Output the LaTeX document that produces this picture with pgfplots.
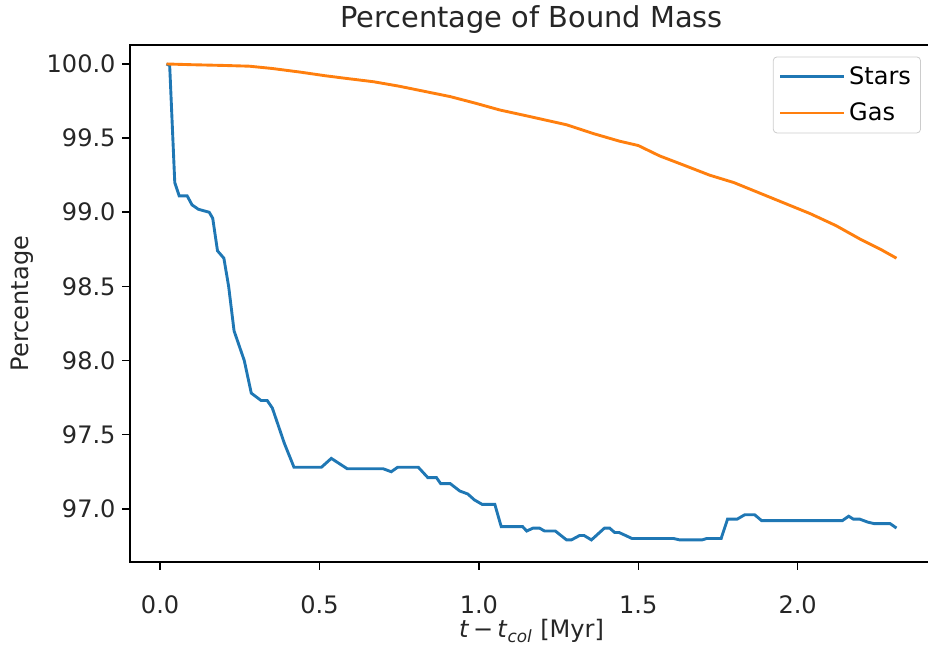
\documentclass[border=0pt]{standalone}
\usepackage{fontspec}
\setmainfont{DejaVu Sans}
\usepackage{pgfplots}
\pgfplotsset{compat=1.18}
\definecolor{mplblue}{HTML}{1F77B4}
\definecolor{mplorange}{HTML}{FF7F0E}
\begin{document}
\begin{tikzpicture}
\path[use as bounding box] (-67.6pt,-43.2pt) rectangle (415pt,292.2pt);
\begin{axis}[
  at={(0pt,0pt)}, anchor=south west,
  width=417.6pt, height=268.8pt, scale only axis,
  xmin=-0.0945, xmax=2.4245,
  ymin=96.642, ymax=100.128,
  xtick={0,0.5,1,1.5,2},
  ytick={97,97.5,98,98.5,99,99.5,100},
  /pgf/number format/assume math mode=true,
  tick label style={font=\fontsize{12.5}{15}\selectfont, text=black!85,
    /pgf/number format/fixed, /pgf/number format/fixed zerofill, /pgf/number format/precision=1},
  xticklabel style={yshift=-10pt},
  tick align=outside, major tick length=4pt,
  tick style={black, line width=0.8pt},
  xtick pos=bottom, ytick pos=left,
  axis line style={black, line width=0.8pt},
  title={Percentage of Bound Mass},
  every axis title/.style={font=\fontsize{15}{18}\selectfont, at={(0.5,1)}, anchor=base, yshift=9pt, text=black!85},
  xlabel={\textit{t}\,−\,\textit{t}\textsubscript{\textit{col}} [Myr]},
  ylabel={Percentage},
  xlabel style={at={(axis description cs:0.5,0)}, anchor=center, yshift=-36pt},
  ylabel style={at={(axis description cs:0,0.5)}, anchor=center, yshift=56pt},
  label style={font=\fontsize{12.5}{15}\selectfont, text=black!85},
  legend style={at={(1,1)}, anchor=north east, xshift=-6.25pt, yshift=-6pt,
    draw=black!20, rounded corners=2pt, fill=white, fill opacity=0.8, text opacity=1,
    font=\fontsize{12.5}{15}\selectfont, inner xsep=3pt, inner ysep=3pt, row sep=4pt},
  legend cell align=left,
  legend image code/.code={\path (0pt,0pt) -- (33pt,0pt);\draw[#1, line width=1.5pt] (0pt,0pt) -- (27.6pt,0pt);},
]
\addplot[mplblue, line width=1.5pt] coordinates {
(0.020,100.00) (0.030,99.99) (0.046,99.20) (0.060,99.11) (0.085,99.11)
(0.100,99.05) (0.120,99.02) (0.154,99.00) (0.165,98.96) (0.180,98.74)
(0.200,98.69) (0.215,98.50) (0.232,98.20) (0.264,98.00) (0.286,97.78)
(0.317,97.73) (0.336,97.73) (0.352,97.68) (0.390,97.44) (0.420,97.28)
(0.506,97.28) (0.537,97.34) (0.587,97.27) (0.700,97.27) (0.725,97.25)
(0.745,97.28) (0.810,97.28) (0.840,97.21) (0.867,97.21) (0.880,97.17)
(0.910,97.17) (0.940,97.12) (0.965,97.10) (0.986,97.06) (1.010,97.03)
(1.050,97.03) (1.070,96.88) (1.137,96.88) (1.150,96.85) (1.170,96.87)
(1.190,96.87) (1.206,96.85) (1.240,96.85) (1.275,96.79) (1.290,96.79)
(1.316,96.82) (1.330,96.82) (1.353,96.79) (1.394,96.87) (1.410,96.87)
(1.426,96.84) (1.440,96.84) (1.480,96.80) (1.610,96.80) (1.630,96.79)
(1.700,96.79) (1.715,96.80) (1.760,96.80) (1.780,96.93) (1.810,96.93)
(1.834,96.96) (1.865,96.96) (1.887,96.92) (2.140,96.92) (2.160,96.95)
(2.175,96.93) (2.195,96.93) (2.220,96.91) (2.240,96.90) (2.290,96.90)
(2.310,96.87)
};
\addlegendentry{Stars}
\addplot[mplorange, line width=1.5pt] coordinates {
(0.020,100.00) (0.10,99.995) (0.20,99.99) (0.28,99.985) (0.35,99.97)
(0.44,99.945) (0.52,99.92) (0.594,99.90) (0.67,99.88) (0.75,99.85)
(0.83,99.815) (0.91,99.78) (0.99,99.735) (1.065,99.69) (1.15,99.65)
(1.275,99.59) (1.36,99.53) (1.44,99.48) (1.50,99.45) (1.567,99.38)
(1.64,99.32) (1.724,99.25) (1.80,99.20) (1.88,99.13) (1.96,99.06)
(2.04,98.99) (2.12,98.91) (2.195,98.82) (2.26,98.75) (2.31,98.69)
};
\addlegendentry{Gas}
\end{axis}
\end{tikzpicture}
\end{document}
